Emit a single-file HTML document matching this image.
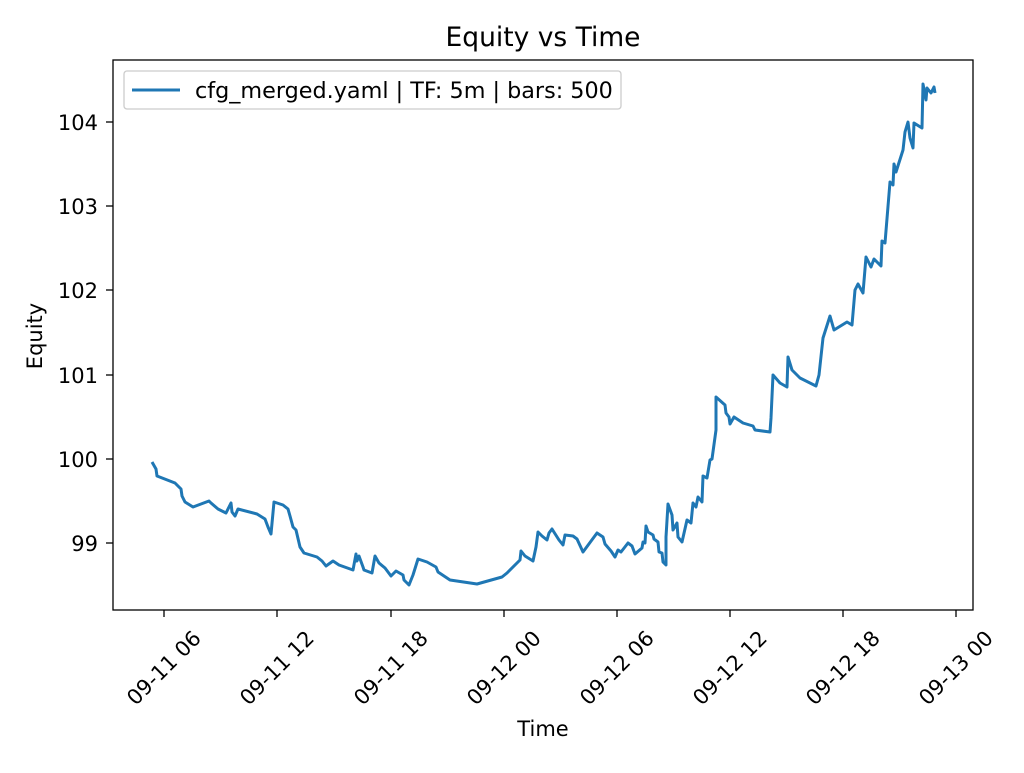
<!DOCTYPE html>
<html><head><meta charset="utf-8"><style>body{margin:0;background:#fff}</style></head><body>
<svg width="1024" height="768" xmlns="http://www.w3.org/2000/svg" font-family="'DejaVu Sans','Liberation Sans',sans-serif">
<rect width="1024" height="768" fill="#fff"/>
<text x="543" y="46" font-size="26.5" text-anchor="middle" fill="#000">Equity vs Time</text>
<polyline fill="none" stroke="#1f77b4" stroke-width="3" stroke-linejoin="round" points="152,462 156,469 157,476 175,483 181,489 182,496 185,502 193,507 209,501 211,503 218,509 226,513 231,503 232,512 235,516 238,509 257,514 265,519 268,527 271,534 274,502 283,505 288,509 290,516 293,527 296,530 300,547 304,553 317,557 322,561 326,566 333,561 339,565 353,570 356,554 357,561 359,556 363,567 364,570 372,573 375,556 379,563 385,568 391,576 396,571 403,575 404,580 409,585 413,575 418,559 427,562 436,567 438,572 450,580 477,584 502,577 507,573 520,560 521,551 525,556 533,561 536,547 538,532 542,536 547,540 549,533 552,529 559,540 563,545 565,535 573,536 577,539 583,552 597,533 603,537 605,544 611,551 615,557 618,550 621,552 628,543 632,546 635,554 642,548 643,542 645,543 646,526 648,532 653,535 654,539 658,542 659,552 662,553 663,562 666,565 666,537 668,504 672,515 673,530 677,523 678,537 682,542 687,520 691,523 693,503 696,507 698,497 702,502 703,476 707,478 710,460 712,459 716,430 716,397 725,405 726,413 729,417 730,424 734,417 743,423 753,426 755,430 770,432 771,418 773,375 780,383 787,387 788,357 792,370 800,378 816,386 819,375 823,338 830,316 834,330 847,322 852,325 855,290 858,284 863,293 866,257 871,267 874,259 881,266 882,241 885,243 890,182 893,185 894,164 896,172 903,150 905,132 908,122 910,138 913,148 914,123 922,128 923,84 926,100 927,88 931,93 934,87 935,93"/>
<rect x="113" y="60" width="860" height="550" fill="none" stroke="#000" stroke-width="1.3"/>
<g stroke="#000" stroke-width="1.3">
<line x1="113" x2="106" y1="122" y2="122"/><line x1="113" x2="106" y1="206" y2="206"/><line x1="113" x2="106" y1="290" y2="290"/><line x1="113" x2="106" y1="375" y2="375"/><line x1="113" x2="106" y1="459" y2="459"/><line x1="113" x2="106" y1="543" y2="543"/>
<line x1="164" x2="164" y1="610" y2="617"/><line x1="277" x2="277" y1="610" y2="617"/><line x1="391" x2="391" y1="610" y2="617"/><line x1="504" x2="504" y1="610" y2="617"/><line x1="617" x2="617" y1="610" y2="617"/><line x1="730" x2="730" y1="610" y2="617"/><line x1="843" x2="843" y1="610" y2="617"/><line x1="956" x2="956" y1="610" y2="617"/>
</g>
<g font-size="21" text-anchor="end" fill="#000">
<text x="98" y="130">104</text><text x="98" y="214">103</text><text x="98" y="298">102</text><text x="98" y="383">101</text><text x="98" y="467">100</text><text x="98" y="551">99</text>
</g>
<g font-size="21" text-anchor="middle" fill="#000">
<text transform="translate(164,668) rotate(-45)" dy="7">09-11 06</text>
<text transform="translate(277,668) rotate(-45)" dy="7">09-11 12</text>
<text transform="translate(391,668) rotate(-45)" dy="7">09-11 18</text>
<text transform="translate(504,668) rotate(-45)" dy="7">09-12 00</text>
<text transform="translate(617,668) rotate(-45)" dy="7">09-12 06</text>
<text transform="translate(730,668) rotate(-45)" dy="7">09-12 12</text>
<text transform="translate(843,668) rotate(-45)" dy="7">09-12 18</text>
<text transform="translate(956,668) rotate(-45)" dy="7">09-13 00</text>
</g>
<text x="543" y="736" font-size="21" text-anchor="middle">Time</text>
<text transform="translate(42,336) rotate(-90)" font-size="21" text-anchor="middle">Equity</text>
<rect x="124" y="71" width="497" height="38" rx="3" fill="#fff" stroke="#ccc" stroke-width="1.3"/>
<line x1="132" x2="180" y1="90" y2="90" stroke="#1f77b4" stroke-width="3"/>
<text x="195" y="98" font-size="22.3">cfg_merged.yaml | TF: 5m | bars: 500</text>
</svg>
</body></html>
